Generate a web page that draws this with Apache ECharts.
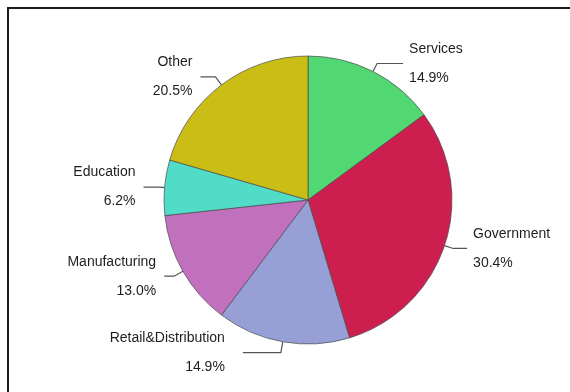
<!DOCTYPE html>
<html>
<head>
<meta charset="utf-8">
<title>Sector share</title>
<script src="https://cdn.jsdelivr.net/npm/echarts@6/dist/echarts.min.js"></script>
<style>
  html, body { margin: 0; padding: 0; background: #ffffff; }
  #chart { width: 570px; height: 392px; }
</style>
</head>
<body>
<div id="chart"></div>
<script>
// Sectors, clockwise from twelve o'clock
const sectors = ['Services', 'Government', 'Retail&Distribution', 'Manufacturing', 'Education', 'Other'];
// Share of the total, in percent
const shares = [14.9, 30.4, 14.9, 13.0, 6.2, 20.5];
// Slice colours, one per sector
const sliceColors = ['#52d872', '#cc1f50', '#96a0d6', '#c170bd', '#50dcc6', '#c9bd16'];

// Leader-line tuning per sector: radial stub, horizontal run, gap to the text
const leaderStyle = {
  'Services':            { length: 9,  length2: 26, gap: 6 },
  'Government':          { length: 9,  length2: 14, gap: 6 },
  'Retail&Distribution': { length: 11, length2: 38, gap: 18 },
  'Manufacturing':       { length: 10, length2: 10, gap: 8 },
  'Education':           { length: 5,  length2: 16, gap: 8 },
  'Other':               { length: 10, length2: 15, gap: 8 }
};

const pieData = sectors.map((name, i) => {
  const s = leaderStyle[name];
  return {
    name: name,
    value: shares[i],
    itemStyle: { color: sliceColors[i] },
    labelLine: { length: s.length, length2: s.length2 },
    label: { distanceToLabelLine: s.gap }
  };
});

const chart = echarts.init(document.getElementById('chart'), null, { renderer: 'canvas' });

chart.setOption({
  backgroundColor: '#ffffff',
  animation: false,
  graphic: [{
    type: 'rect',
    shape: { x: 8, y: 8, width: 620, height: 460 },
    style: { fill: 'none', stroke: '#1c1c1c', lineWidth: 2 },
    silent: true
  }],
  series: [{
    type: 'pie',
    center: [308, 200],
    radius: 144,
    startAngle: 90,
    clockwise: true,
    avoidLabelOverlap: false,
    itemStyle: { borderColor: '#4a4a4a', borderWidth: 0.7 },
    label: {
      show: true,
      position: 'outside',
      formatter: p => p.name + '\n' + p.value.toFixed(1) + '%',
      fontFamily: 'Liberation Sans, Arial, sans-serif',
      fontSize: 14,
      lineHeight: 29,
      color: '#1e1e1e'
    },
    labelLine: {
      show: true,
      smooth: false,
      lineStyle: { color: '#555555', width: 1.2 }
    },
    emphasis: { disabled: true },
    data: pieData
  }]
});
</script>
</body>
</html>
